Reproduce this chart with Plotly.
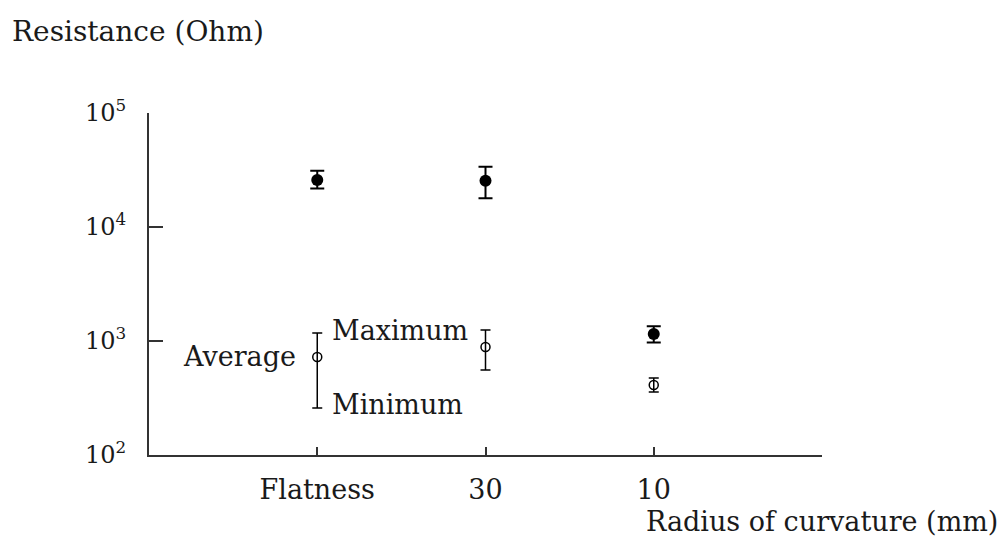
import plotly.graph_objects as go

categories = ["Flatness", "30", "10"]
cat_pos = [1, 2, 3]

# Filled series (upper)
upper_avg = [25800, 25500, 1150]
upper_max = [31200, 33800, 1350]
upper_min = [21800, 17900, 970]

# Open series (lower)
lower_avg = [724, 885, 411]
lower_max = [1175, 1250, 473]
lower_min = [258, 557, 357]

y_tickvals = [100, 1000, 10000, 100000]
y_ticktext = ["10<sup>2</sup>", "10<sup>3</sup>", "10<sup>4</sup>", "10<sup>5</sup>"]

FONT = "DejaVu Serif"
TXT = "#1a1a1a"

fig = go.Figure()

fig.add_trace(go.Scatter(
    x=cat_pos, y=upper_avg, mode="markers",
    marker=dict(symbol="circle", size=12, color="black"),
    error_y=dict(type="data", symmetric=False,
                 array=[m - a for m, a in zip(upper_max, upper_avg)],
                 arrayminus=[a - m for m, a in zip(upper_min, upper_avg)],
                 color="black", thickness=2, width=7),
    showlegend=False,
))

fig.add_trace(go.Scatter(
    x=cat_pos, y=lower_avg, mode="markers",
    marker=dict(symbol="circle-open", size=9, color="black", line=dict(width=1.5)),
    error_y=dict(type="data", symmetric=False,
                 array=[m - a for m, a in zip(lower_max, lower_avg)],
                 arrayminus=[a - m for m, a in zip(lower_min, lower_avg)],
                 color="black", thickness=1.5, width=5),
    showlegend=False,
))

big = dict(family=FONT, size=27, color=TXT)
annotations = [
    dict(text="Resistance (Ohm)", xref="paper", yref="paper", x=-0.207, y=1.237,
         xanchor="left", yanchor="middle", showarrow=False,
         font=dict(family=FONT, size=28, color=TXT)),
    dict(text="Radius of curvature (mm)", xref="paper", yref="paper", x=1.2645, y=-0.195,
         xanchor="right", yanchor="middle", showarrow=False, font=big),
    dict(text="Average", xref="x", yref="y", x=cat_pos[0], y=2.86,
         xanchor="right", yanchor="middle", xshift=-19, showarrow=False, font=big),
    dict(text="Maximum", xref="x", yref="y", x=cat_pos[0], y=3.09,
         xanchor="left", yanchor="middle", xshift=13, showarrow=False, font=big),
    dict(text="Minimum", xref="x", yref="y", x=cat_pos[0], y=2.44,
         xanchor="left", yanchor="middle", xshift=13, showarrow=False, font=big),
]

fig.update_layout(
    width=1004, height=545,
    margin=dict(l=149, r=182, t=113, b=90),
    paper_bgcolor="white", plot_bgcolor="white",
    font=dict(family=FONT, size=27, color=TXT),
    annotations=annotations,
    xaxis=dict(
        range=[0, 4], tickvals=cat_pos, ticktext=categories,
        showline=True, linecolor="#333", linewidth=2,
        ticks="inside", ticklen=8, tickwidth=1.5, tickcolor="#333",
        showgrid=False, zeroline=False, ticklabelstandoff=10,
        tickfont=dict(family=FONT, size=27, color=TXT),
    ),
    yaxis=dict(
        type="log", range=[2, 5], tickvals=y_tickvals, ticktext=y_ticktext,
        showline=True, linecolor="#333", linewidth=2,
        ticks="inside", ticklen=14, tickwidth=1.5, tickcolor="#333",
        showgrid=False, zeroline=False, ticklabelstandoff=16,
        tickfont=dict(family=FONT, size=24, color=TXT),
    ),
)

fig.write_html("out.html")
